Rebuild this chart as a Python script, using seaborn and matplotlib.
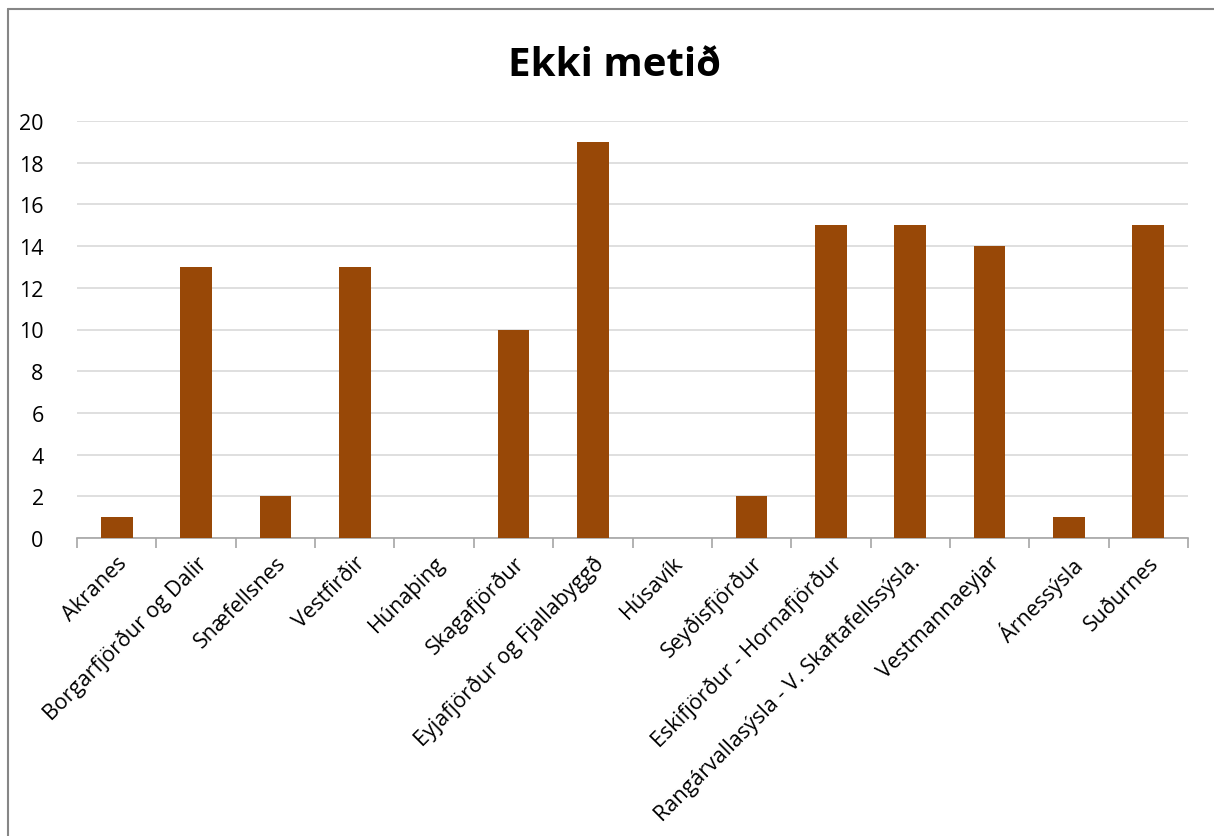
import matplotlib
matplotlib.use("Agg")
import matplotlib.pyplot as plt
import seaborn as sns
import pandas as pd
from matplotlib.lines import Line2D

categories = ["Akranes", "Borgarfjörður og Dalir", "Snæfellsnes", "Vestfirðir", "Húnaþing",
              "Skagafjörður", "Eyjafjörður og Fjallabyggð", "Húsavík", "Seyðisfjörður",
              "Eskifjörður - Hornafjörður", "Rangárvallasýsla - V. Skaftafellssýsla.",
              "Vestmannaeyjar", "Árnessýsla", "Suðurnes"]
values = [1, 13, 2, 13, 0, 10, 19, 0, 2, 15, 15, 14, 1, 15]
yticks = list(range(0, 21, 2))
title = "Ekki metið"

sns.set_theme(style="white")
plt.rcParams['font.family'] = ['Open Sans', 'DejaVu Sans']
plt.rcParams['text.color'] = 'black'
plt.rcParams['xtick.color'] = 'black'
plt.rcParams['ytick.color'] = 'black'

df = pd.DataFrame({"cat": categories, "val": values})

fig = plt.figure(figsize=(12.14, 8.37), dpi=100)
ax = fig.add_axes([77/1214, 1-539/837, (1188-77)/1214, (539-122)/837])

sns.barplot(data=df, x="cat", y="val", color="#984807", width=0.4, saturation=1,
            ax=ax, zorder=3, linewidth=0)

ax.set_ylim(0, 20)
ax.set_xlim(-0.5, len(categories)-0.5)
ax.set_yticks(yticks)
ax.set_yticklabels([str(t) for t in yticks], fontsize=15.5)
ax.yaxis.grid(True, color="#d9d9d9", linewidth=1.2, zorder=0)
ax.tick_params(axis='y', length=0, pad=24, labelcolor='black')

# Category labels at bar centers, tick marks at category boundaries
ax.set_xticks([i - 0.5 for i in range(len(categories)+1)])
ax.set_xticklabels([""] * (len(categories)+1))
ax.set_xticks([i for i in range(len(categories))], minor=True)
ax.set_xticklabels(categories, minor=True)
ax.tick_params(axis='x', which='minor', length=0, pad=10, labelsize=15.5, labelcolor='black')
ax.tick_params(axis='x', which='major', length=7, width=1.2, color="#a6a6a6", direction="out", bottom=True)
ax.set_xlabel("")
ax.set_ylabel("")

for s in ["top", "right", "left"]:
    ax.spines[s].set_visible(False)
ax.spines["bottom"].set_color("#a6a6a6")
ax.spines["bottom"].set_linewidth(1.2)

fig.text(614/1214, 1-65/837, title, ha="center", va="center", fontsize=29, fontweight="bold", color="black")

# chart frame (left and top edges visible)
fig.add_artist(Line2D([8/1214, 8/1214], [0, 1-10/837], color="#868686", linewidth=1.5, transform=fig.transFigure))
fig.add_artist(Line2D([8/1214, 1], [1-10/837, 1-10/837], color="#868686", linewidth=1.5, transform=fig.transFigure))

plt.setp(ax.get_xticklabels(minor=True), rotation=45, ha="right", rotation_mode="anchor", fontsize=15.5)

fig.savefig("out.png", dpi=100)
